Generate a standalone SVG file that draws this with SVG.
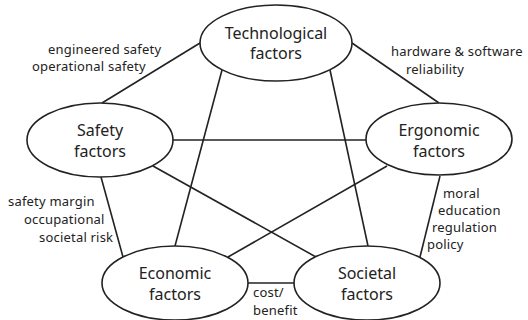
<svg xmlns="http://www.w3.org/2000/svg" width="528" height="320" viewBox="0 0 528 320">
  <style>
    .node ellipse { fill: #ffffff; stroke: #222222; stroke-width: 1.6; }
    .node text { font-family: "Noto Sans", "Open Sans", sans-serif; font-size: 16px; fill: #222222; text-anchor: middle; }
    .edges line { stroke: #222222; stroke-width: 1.6; }
    .lbl { font-family: "Noto Sans", "Open Sans", sans-serif; font-size: 13px; fill: #222222; letter-spacing: 0.2px; }
  </style>
  <rect width="528" height="320" fill="#ffffff"/>

  <!-- connectors -->
  <g class="edges">
    <line x1="200" y1="43" x2="102" y2="103"/>
    <line x1="352" y1="43" x2="439" y2="103"/>
    <line x1="173" y1="140" x2="366" y2="140"/>
    <line x1="101" y1="177" x2="123" y2="257"/>
    <line x1="222" y1="70" x2="175" y2="246"/>
    <line x1="330" y1="70" x2="368" y2="246"/>
    <line x1="153" y1="166" x2="316" y2="257"/>
    <line x1="387" y1="166" x2="228" y2="257"/>
    <line x1="440" y1="176" x2="420" y2="257"/>
    <line x1="248" y1="283" x2="295" y2="283"/>
  </g>

  <!-- nodes -->
  <g id="technological" class="node">
    <ellipse cx="276" cy="43" rx="76" ry="38"/>
    <text x="276" y="39">Technological</text>
    <text x="276" y="59">factors</text>
  </g>
  <g id="safety" class="node">
    <ellipse cx="100" cy="140" rx="73" ry="37"/>
    <text x="100" y="136">Safety</text>
    <text x="100" y="157">factors</text>
  </g>
  <g id="ergonomic" class="node">
    <ellipse cx="439" cy="139" rx="73" ry="36"/>
    <text x="439" y="136">Ergonomic</text>
    <text x="439" y="157">factors</text>
  </g>
  <g id="economic" class="node">
    <ellipse cx="175" cy="283" rx="73" ry="37"/>
    <text x="175" y="279">Economic</text>
    <text x="175" y="300">factors</text>
  </g>
  <g id="societal" class="node">
    <ellipse cx="367" cy="283" rx="73" ry="37"/>
    <text x="367" y="279">Societal</text>
    <text x="367" y="300">factors</text>
  </g>

  <!-- connector labels -->
  <g id="labels">
    <text class="lbl" x="48" y="54">engineered safety</text>
    <text class="lbl" x="32" y="71">operational safety</text>
    <text class="lbl" x="391" y="56">hardware &amp; software</text>
    <text class="lbl" x="406" y="74">reliability</text>
    <text class="lbl" x="8" y="206">safety margin</text>
    <text class="lbl" x="24" y="224">occupational</text>
    <text class="lbl" x="39" y="242">societal risk</text>
    <text class="lbl" x="443" y="198">moral</text>
    <text class="lbl" x="438" y="215">education</text>
    <text class="lbl" x="432" y="232">regulation</text>
    <text class="lbl" x="427" y="249">policy</text>
    <text class="lbl" x="253" y="297">cost/</text>
    <text class="lbl" x="253" y="315">benefit</text>
  </g>
</svg>
